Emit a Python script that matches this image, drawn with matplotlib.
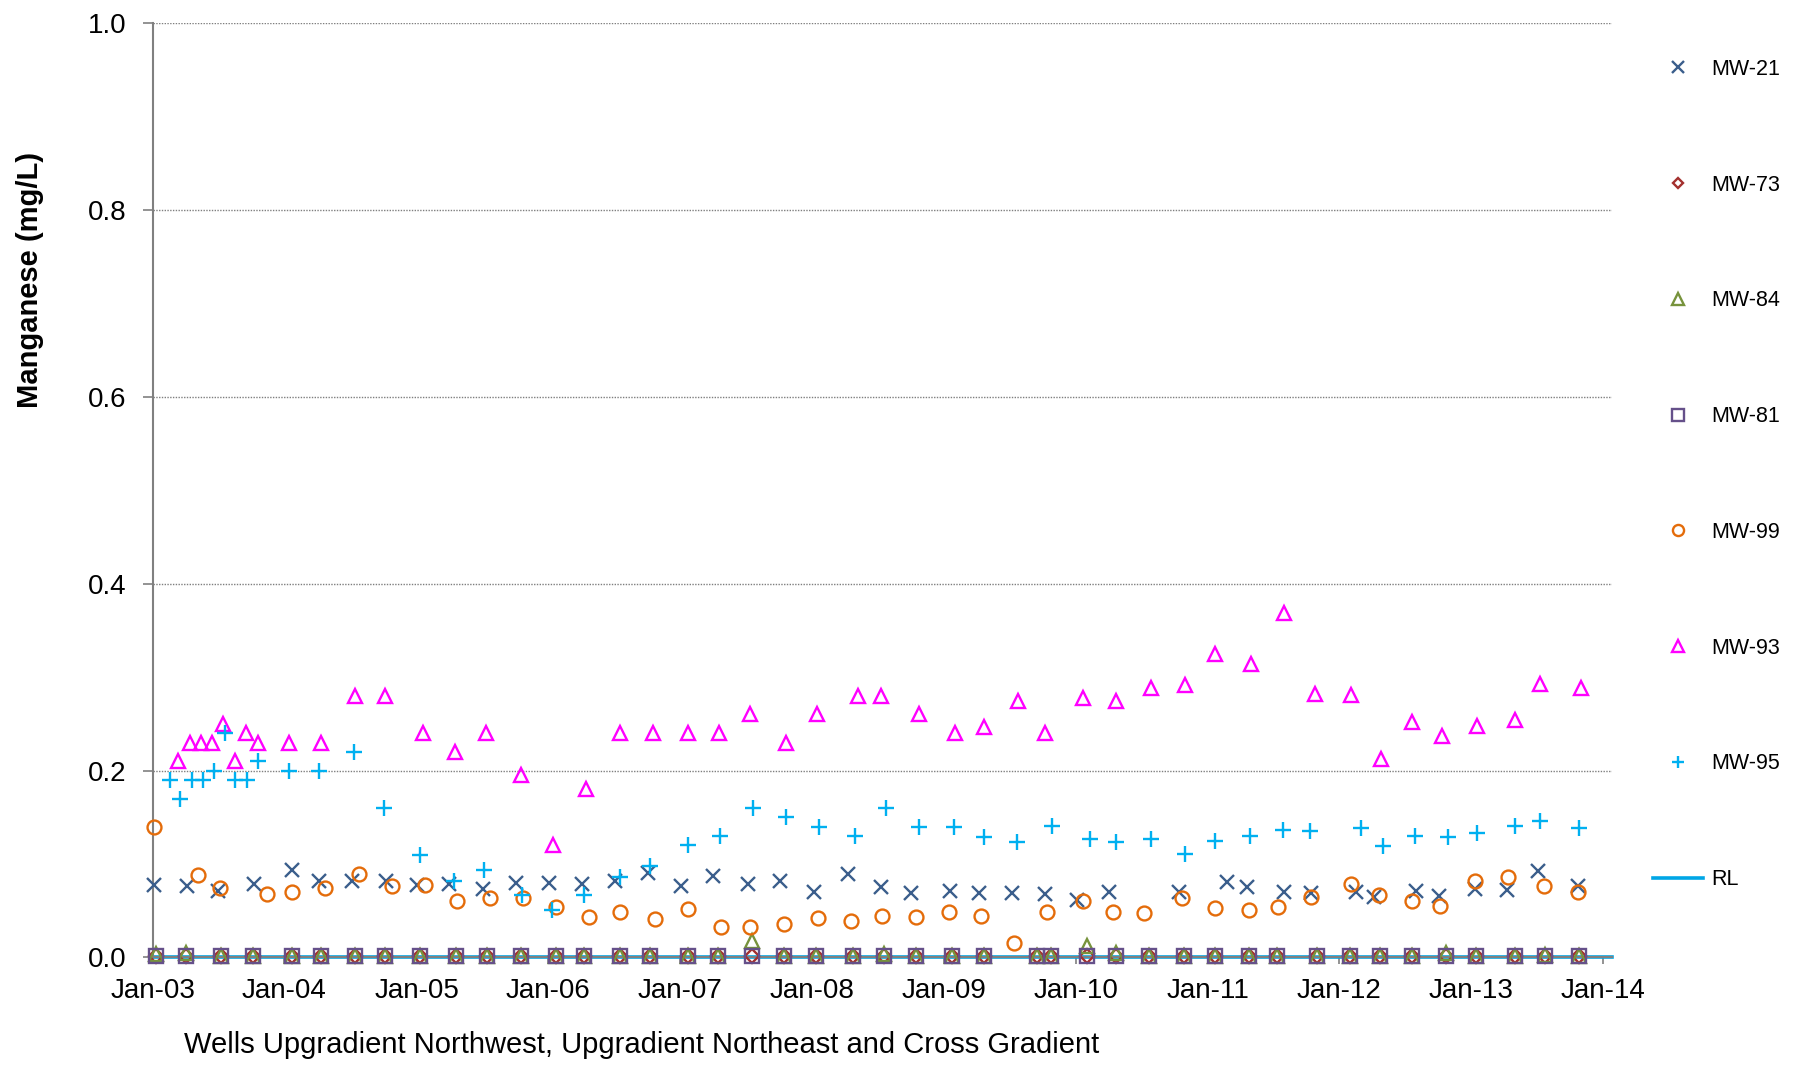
import pandas as pd
import matplotlib
matplotlib.use("Agg")
import matplotlib.pyplot as plt
import matplotlib.dates as mdates
from matplotlib.ticker import MultipleLocator, FormatStrFormatter

plt.rcParams['font.family'] = ['Liberation Sans', 'DejaVu Sans']

# ---- data (mg/L) ----
mw21_dates = ['2003-01-05', '2003-04-05', '2003-07-02', '2003-10-09', '2004-01-21', '2004-04-05',
              '2004-07-07', '2004-10-07', '2005-01-02', '2005-04-02', '2005-07-05', '2005-10-04',
              '2006-01-04', '2006-04-04', '2006-07-05', '2006-10-04', '2007-01-02', '2007-04-03',
              '2007-07-08', '2007-10-05', '2008-01-08', '2008-04-10', '2008-07-10', '2008-10-02',
              '2009-01-17', '2009-04-09', '2009-07-07', '2009-10-07', '2010-01-05', '2010-04-02',
              '2010-10-15', '2011-02-23', '2011-04-20', '2011-08-02', '2011-10-14', '2012-02-17',
              '2012-04-05', '2012-08-01', '2012-10-04', '2013-01-10', '2013-04-10', '2013-07-05',
              '2013-10-24']
mw21 = [0.077, 0.076, 0.071, 0.079, 0.093, 0.082, 0.082, 0.082, 0.077, 0.078, 0.073, 0.080,
        0.080, 0.079, 0.082, 0.090, 0.076, 0.087, 0.079, 0.082, 0.070, 0.089, 0.075, 0.069,
        0.071, 0.069, 0.069, 0.068, 0.061, 0.070, 0.070, 0.081, 0.075, 0.070, 0.069, 0.070,
        0.065, 0.071, 0.066, 0.073, 0.072, 0.092, 0.076]

# quarterly events for the wells that sit at the reporting limit
low_dates = ['2003-01-10', '2003-04-02', '2003-07-08', '2003-10-05', '2004-01-21', '2004-04-10',
             '2004-07-14', '2004-10-05', '2005-01-11', '2005-04-21', '2005-07-15', '2005-10-16',
             '2006-01-21', '2006-04-11', '2006-07-17', '2006-10-10', '2007-01-23', '2007-04-15',
             '2007-07-18', '2007-10-15', '2008-01-12', '2008-04-23', '2008-07-18', '2008-10-15',
             '2009-01-22', '2009-04-21', '2009-09-16', '2009-10-23', '2010-02-02', '2010-04-22',
             '2010-07-22', '2010-10-27', '2011-01-21', '2011-04-26', '2011-07-12', '2011-10-31',
             '2012-01-30', '2012-04-22', '2012-07-19', '2012-10-23', '2013-01-13', '2013-05-01',
             '2013-07-25', '2013-10-25']
mw73 = [0.001] * 44
mw84 = [0.004, 0.005, 0.001, 0.001, 0.001, 0.001, 0.001, 0.001, 0.001, 0.001, 0.001, 0.001,
        0.001, 0.001, 0.001, 0.001, 0.001, 0.001, 0.017, 0.001, 0.001, 0.001, 0.004, 0.001,
        0.001, 0.001, 0.001, 0.001, 0.012, 0.005, 0.001, 0.001, 0.001, 0.001, 0.001, 0.001,
        0.001, 0.001, 0.001, 0.005, 0.001, 0.001, 0.003, 0.001]
mw81 = [0.001] * 44

mw99_dates = ['2003-01-05', '2003-05-06', '2003-07-07', '2003-11-13', '2004-01-21', '2004-04-21',
              '2004-07-25', '2004-10-25', '2005-01-23', '2005-04-23', '2005-07-24', '2005-10-24',
              '2006-01-21', '2006-04-23', '2006-07-19', '2006-10-22', '2007-01-23', '2007-04-24',
              '2007-07-13', '2007-10-15', '2008-01-18', '2008-04-18', '2008-07-14', '2008-10-15',
              '2009-01-14', '2009-04-13', '2009-07-14', '2009-10-13', '2010-01-22', '2010-04-15',
              '2010-07-10', '2010-10-22', '2011-01-21', '2011-04-26', '2011-07-15', '2011-10-14',
              '2012-02-01', '2012-04-20', '2012-07-20', '2012-10-06', '2013-01-12', '2013-04-13',
              '2013-07-20', '2013-10-24']
mw99 = [0.140, 0.088, 0.074, 0.068, 0.070, 0.074, 0.089, 0.076, 0.077, 0.060, 0.063, 0.063,
        0.054, 0.043, 0.048, 0.041, 0.052, 0.033, 0.033, 0.036, 0.042, 0.039, 0.044, 0.043,
        0.049, 0.044, 0.015, 0.048, 0.060, 0.048, 0.047, 0.064, 0.053, 0.051, 0.054, 0.065,
        0.079, 0.067, 0.060, 0.055, 0.082, 0.086, 0.076, 0.070]

mw93_dates = ['2003-03-13', '2003-04-14', '2003-05-14', '2003-06-15', '2003-07-15', '2003-08-16',
              '2003-09-16', '2003-10-19', '2004-01-14', '2004-04-10', '2004-07-14', '2004-10-05',
              '2005-01-18', '2005-04-17', '2005-07-11', '2005-10-16', '2006-01-14', '2006-04-16',
              '2006-07-19', '2006-10-18', '2007-01-23', '2007-04-20', '2007-07-14', '2007-10-22',
              '2008-01-16', '2008-05-07', '2008-07-11', '2008-10-24', '2009-01-31', '2009-04-21',
              '2009-07-24', '2009-10-07', '2010-01-22', '2010-04-23', '2010-07-29', '2010-10-30',
              '2011-01-21', '2011-04-30', '2011-07-31', '2011-10-25', '2012-02-02', '2012-04-25',
              '2012-07-20', '2012-10-11', '2013-01-17', '2013-05-01', '2013-07-11', '2013-10-31']
mw93 = [0.21, 0.23, 0.23, 0.23, 0.25, 0.21, 0.24, 0.23, 0.23, 0.23, 0.28, 0.28,
        0.24, 0.22, 0.24, 0.195, 0.12, 0.18, 0.24, 0.24, 0.24, 0.24, 0.26, 0.23,
        0.26, 0.28, 0.28, 0.26, 0.24, 0.247, 0.274, 0.24, 0.278, 0.274, 0.288, 0.292,
        0.325, 0.314, 0.369, 0.282, 0.281, 0.212, 0.252, 0.237, 0.248, 0.254, 0.293, 0.288]

mw95_dates = ['2003-02-19', '2003-03-18', '2003-04-19', '2003-05-20', '2003-06-20', '2003-07-19',
              '2003-08-18', '2003-09-19', '2003-10-21', '2004-01-14', '2004-04-05', '2004-07-12',
              '2004-10-02', '2005-01-09', '2005-04-15', '2005-07-08', '2005-10-20', '2006-01-12',
              '2006-04-09', '2006-07-19', '2006-10-10', '2007-01-23', '2007-04-22', '2007-07-23',
              '2007-10-22', '2008-01-22', '2008-04-30', '2008-07-23', '2008-10-24', '2009-01-29',
              '2009-04-21', '2009-07-22', '2009-10-26', '2010-02-09', '2010-04-22', '2010-07-28',
              '2010-10-30', '2011-01-21', '2011-04-29', '2011-07-28', '2011-10-11', '2012-03-02',
              '2012-05-01', '2012-07-29', '2012-10-27', '2013-01-17', '2013-05-01', '2013-07-11',
              '2013-10-25']
mw95 = [0.19, 0.17, 0.19, 0.19, 0.20, 0.24, 0.19, 0.19, 0.21, 0.20, 0.20, 0.22,
        0.16, 0.11, 0.082, 0.093, 0.067, 0.051, 0.067, 0.086, 0.098, 0.12, 0.13, 0.16,
        0.15, 0.14, 0.13, 0.16, 0.14, 0.14, 0.129, 0.124, 0.141, 0.127, 0.123, 0.127,
        0.111, 0.125, 0.130, 0.136, 0.135, 0.138, 0.119, 0.130, 0.129, 0.133, 0.141, 0.146,
        0.138]

rl_dates = ['2003-01-01', '2014-01-25']
rl = [0.0, 0.0]

# ---- figure ----
fig = plt.figure(figsize=(18.01, 10.65), dpi=100)
ax = fig.add_axes([0.0848, 0.1011, 0.8102, 0.877])

d = pd.to_datetime
ax.plot(d(rl_dates), rl, color='#00A6E6', lw=2.6, label='RL', zorder=2.5, clip_on=False)

series = [
    ('MW-21', mw21_dates, mw21, 'x', '#3B5E8C', 10),
    ('MW-73', low_dates, mw73, 'D', '#A3302E', 7),
    ('MW-84', low_dates, mw84, '^', '#77933C', 10),
    ('MW-81', low_dates, mw81, 's', '#65508A', 10),
    ('MW-99', mw99_dates, mw99, 'o', '#E46C0A', 10),
    ('MW-93', mw93_dates, mw93, '^', '#FF00FF', 10),
    ('MW-95', mw95_dates, mw95, '+', '#00B0F0', 11),
]
for name, dts, vals, mk, col, ms in series:
    ax.plot(d(dts), vals, linestyle='none', marker=mk, markersize=ms,
            markerfacecolor='none', markeredgecolor=col, markeredgewidth=1.7,
            label=name, zorder=3, clip_on=False)

ax.set_ylim(0, 1.0)
ax.set_xlim(d('2003-01-01'), d('2014-01-25'))
ax.yaxis.set_major_locator(MultipleLocator(0.2))
ax.yaxis.set_major_formatter(FormatStrFormatter('%.1f'))
ax.xaxis.set_major_locator(mdates.YearLocator())
ax.xaxis.set_major_formatter(mdates.DateFormatter('%b-%y'))

ax.grid(axis='y', linestyle=(0, (1, 1)), color='#7F7F7F', linewidth=1.0)
ax.set_axisbelow(True)
for s in ['top', 'right']:
    ax.spines[s].set_visible(False)
for s in ['left', 'bottom']:
    ax.spines[s].set_color('#808080')
    ax.spines[s].set_linewidth(1.5)
ax.tick_params(axis='y', labelsize=20, length=7, width=1.2, color='#808080', pad=12)
ax.tick_params(axis='x', labelsize=20, length=5, width=1.2, color='#808080', pad=10)

fig.text(0.0165, 0.737, 'Manganese (mg/L)', rotation=90, ha='center', va='center',
         fontsize=21, fontweight='bold')
fig.text(0.1022, 0.0188, 'Wells Upgradient Northwest, Upgradient Northeast and Cross Gradient',
         ha='left', va='center', fontsize=21)

handles, labels = ax.get_legend_handles_labels()
order = ['MW-21', 'MW-73', 'MW-84', 'MW-81', 'MW-99', 'MW-93', 'MW-95', 'RL']
hmap = dict(zip(labels, handles))
fig.legend([hmap[k] for k in order], order, loc='upper left',
           bbox_to_anchor=(0.918, 0.9446), frameon=False, fontsize=15.5,
           labelspacing=4.4, handlelength=2.3, handletextpad=0.4,
           borderpad=0, borderaxespad=0, markerscale=0.8)

fig.savefig('out.png', dpi=100)
